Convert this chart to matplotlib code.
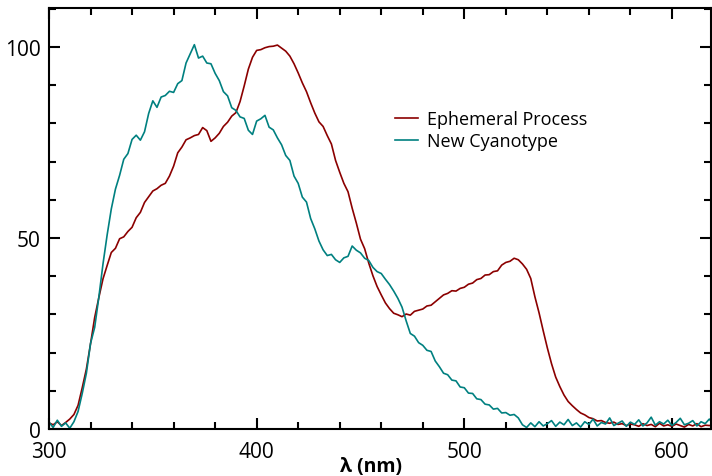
import numpy as np
import matplotlib
matplotlib.use("Agg")
import matplotlib.pyplot as plt
from matplotlib.ticker import MultipleLocator

plt.rcParams['font.family'] = ['Open Sans', 'DejaVu Sans']

# wavelength grid, 2 nm steps
wavelength = np.arange(300, 621, 2)

ephemeral = [
    1.6, 1.1, 1.9, 0.9, 1.7, 2.6, 3.8, 6.2, 10.8, 15.7,
    22.3, 29.2, 34.4, 39.3, 42.8, 46.2, 47.3, 49.8, 50.3, 51.7,
    52.8, 55.3, 56.7, 59.3, 60.8, 62.3, 62.9, 63.8, 64.3, 66.2,
    68.8, 72.3, 73.8, 75.7, 76.2, 76.8, 77.1, 78.9, 78.1, 75.3,
    76.2, 77.4, 79.2, 80.3, 81.9, 82.8, 85.7, 89.8, 94.2, 97.3,
    99.1, 99.3, 99.8, 100.1, 100.2, 100.5, 99.7, 98.9, 97.6, 95.6,
    93.2, 90.6, 88.3, 85.4, 82.7, 80.4, 79.2, 76.8, 74.6, 70.3,
    67.2, 64.3, 62.1, 57.8, 53.9, 49.7, 47.2, 43.4, 40.1, 37.3,
    35.1, 33.0, 31.5, 30.3, 29.9, 29.4, 30.1, 29.8, 30.8, 31.1,
    31.4, 32.2, 32.4, 33.3, 34.2, 35.1, 35.5, 36.2, 36.1, 36.8,
    37.1, 37.9, 38.2, 39.1, 39.4, 40.3, 40.4, 41.2, 41.4, 42.9,
    43.6, 43.9, 44.7, 44.3, 43.2, 41.8, 39.4, 34.6, 30.4, 25.7,
    21.2, 17.1, 13.6, 11.1, 8.9, 7.2, 6.1, 5.1, 4.2, 3.7,
    3.0, 2.7, 2.1, 2.2, 1.7, 1.5, 1.8, 1.2, 1.4, 0.9,
    1.3, 1.1, 0.7, 1.4, 0.9, 1.2, 0.6, 1.5, 0.8, 1.1,
    0.7, 1.3, 0.9, 0.5, 1.2, 0.8, 1.4, 0.6, 1.0, 0.9,
    1.1,
]

cyanotype = [
    1.8, 0.4, 2.3, 0.7, 1.6, 0.2, 1.9, 4.6, 9.3, 14.6,
    22.4, 26.6, 34.5, 43.2, 50.8, 57.6, 62.8, 66.4, 70.6, 72.1,
    75.8, 76.9, 75.6, 77.8, 82.6, 85.9, 84.2, 86.9, 87.3, 88.4,
    88.1, 90.4, 91.2, 95.8, 98.2, 100.6, 97.1, 97.6, 95.8, 95.6,
    93.1, 91.2, 88.3, 87.2, 84.1, 83.4, 81.7, 81.3, 78.2, 77.1,
    80.6, 81.2, 82.1, 79.0, 78.3, 76.2, 74.4, 71.6, 70.3, 66.2,
    64.3, 60.7, 59.4, 55.1, 52.4, 49.2, 46.9, 45.4, 45.7, 44.3,
    43.6, 44.8, 45.2, 47.9, 46.8, 46.1, 44.7, 44.1, 42.3, 41.2,
    40.7, 39.2, 37.8, 36.1, 34.2, 31.9, 28.3, 25.0, 24.3, 22.6,
    21.9, 20.6, 20.3, 17.8, 16.3, 14.6, 14.2, 12.8, 12.6, 11.0,
    10.8, 9.4, 9.3, 7.9, 7.7, 6.5, 6.3, 5.2, 5.4, 4.2,
    4.3, 3.6, 3.8, 2.9, 1.1, 0.4, 1.6, 0.6, 1.9, 0.8,
    1.4, 2.2, 0.7, 1.8, 1.1, 2.5, 0.9, 1.6, 0.5, 1.9,
    1.2, 2.6, 0.8, 1.7, 1.3, 2.9, 0.9, 1.5, 2.1, 0.7,
    1.8, 1.2, 2.4, 0.8, 1.6, 3.1, 1.0, 1.9, 1.3, 2.3,
    0.9, 1.7, 2.8, 1.1, 1.5, 2.2, 0.8, 1.9, 1.4, 2.6,
    1.2,
]

fig = plt.figure(figsize=(7.12, 4.77), dpi=100)
ax = fig.add_axes([49 / 712, 1 - 430 / 477, 662 / 712, 421 / 477])

ax.plot(wavelength, ephemeral, color='#8b0000', lw=1.2, label='Ephemeral Process')
ax.plot(wavelength, cyanotype, color='#008080', lw=1.2, label='New Cyanotype')

ax.set_xlim(300, 618.8)
ax.set_ylim(0, 110.2)

ax.xaxis.set_major_locator(MultipleLocator(100))
ax.xaxis.set_minor_locator(MultipleLocator(20))
ax.yaxis.set_major_locator(MultipleLocator(50))
ax.yaxis.set_minor_locator(MultipleLocator(10))
ax.tick_params(which='both', direction='in', top=True, right=True, width=1.5,
               labelsize=15, pad=6)
ax.tick_params(axis='x', which='major', pad=8.5)
ax.tick_params(which='major', length=8)
ax.tick_params(which='minor', length=5)
for s in ax.spines.values():
    s.set_linewidth(1.5)

ax.set_xlabel('λ (nm)', fontsize=14, fontweight='bold')
ax.xaxis.set_label_coords((371 - 49) / 662, -0.064)

ax.legend(loc='upper left', bbox_to_anchor=(0.522, 0.757), frameon=False,
          fontsize=13, handlelength=1.3, handletextpad=0.5,
          labelspacing=0.2, borderpad=0, borderaxespad=0)

fig.savefig('out.png', dpi=100)
